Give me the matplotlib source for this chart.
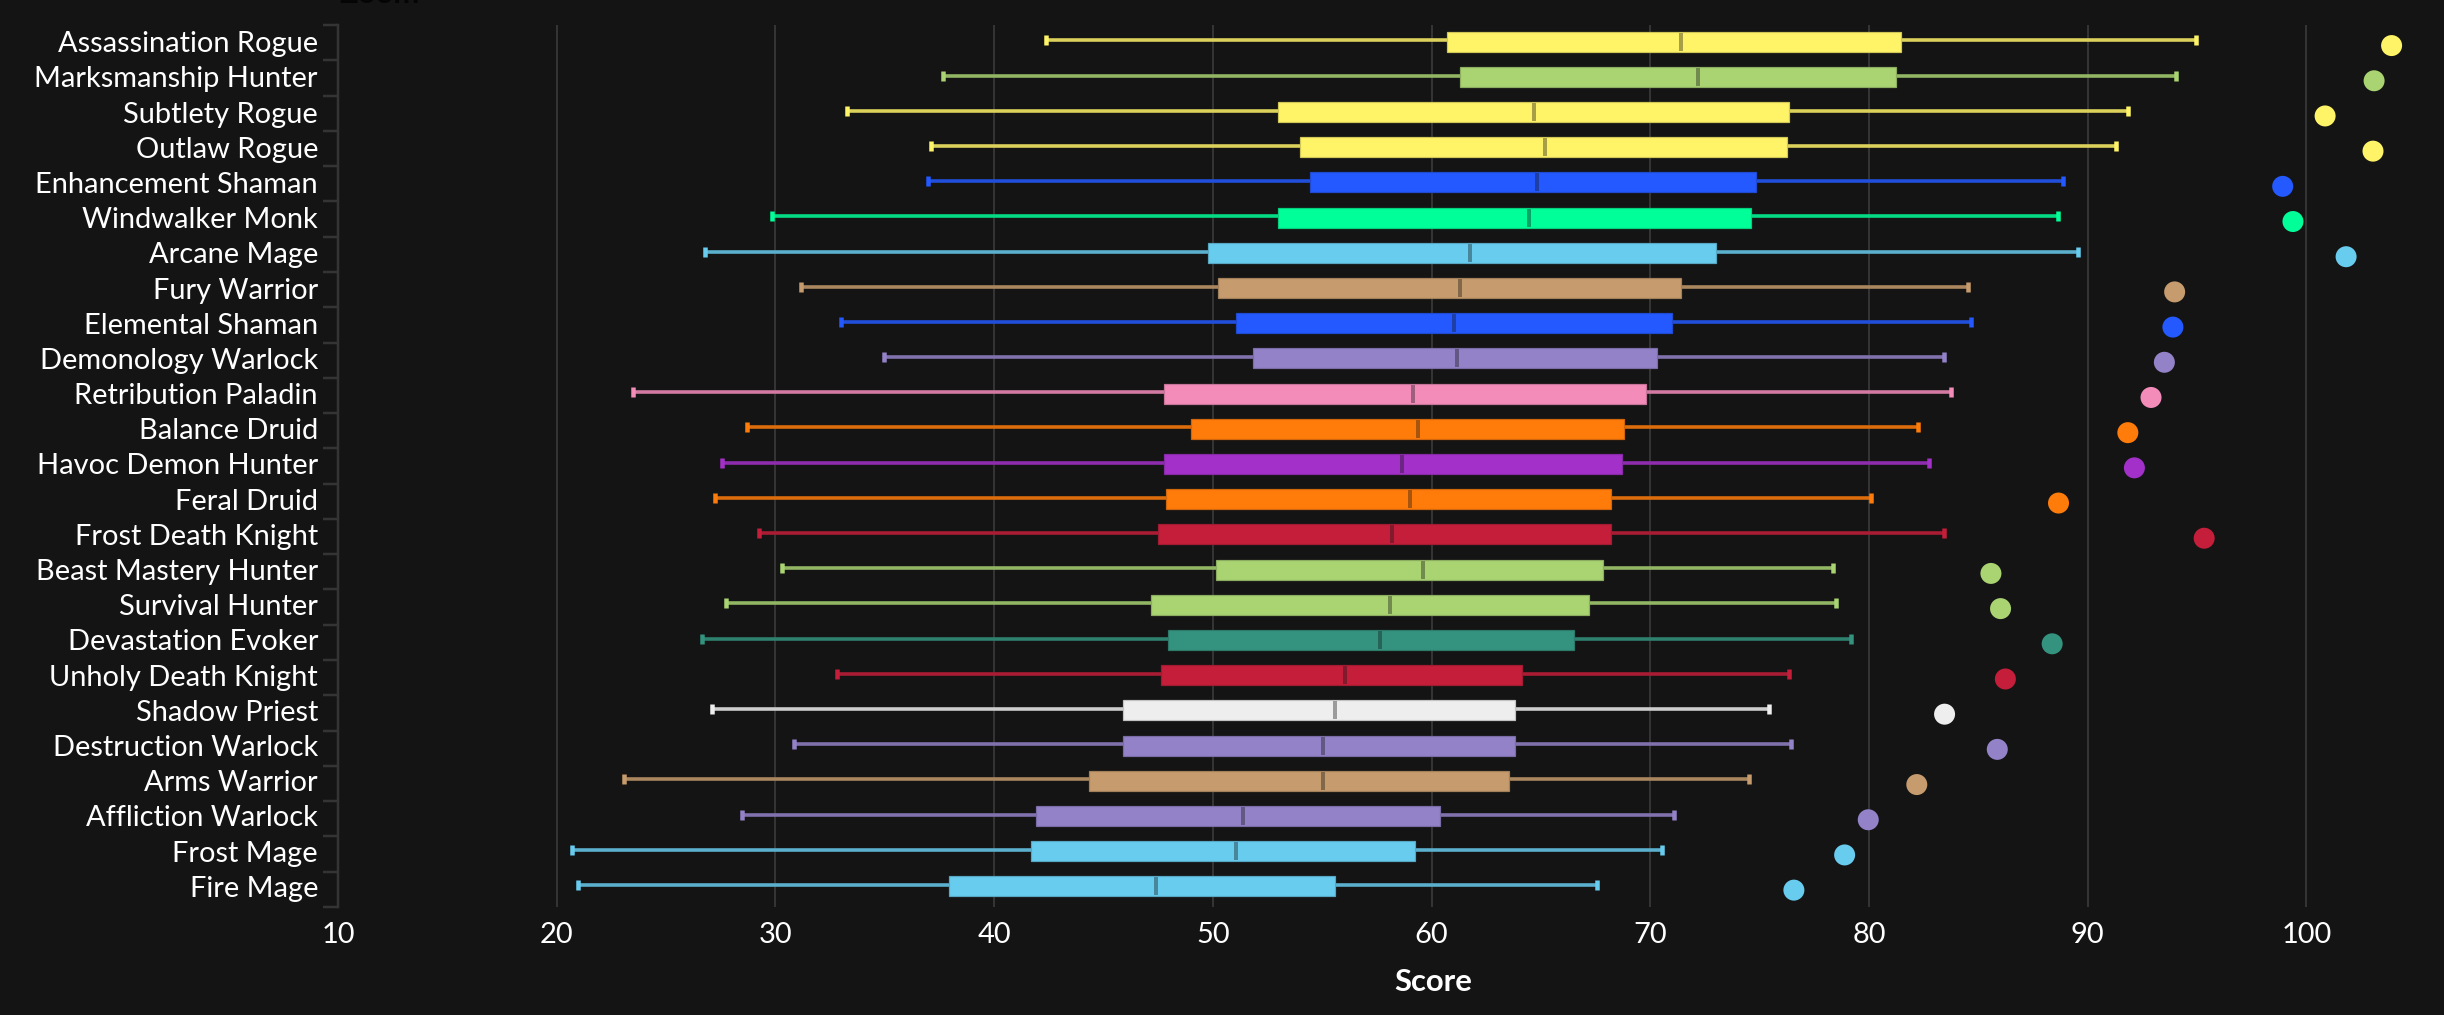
import numpy as np
import matplotlib
matplotlib.use("Agg")
import matplotlib.pyplot as plt
from matplotlib.transforms import ScaledTranslation

specs = ["Assassination Rogue", "Marksmanship Hunter", "Subtlety Rogue", "Outlaw Rogue",
         "Enhancement Shaman", "Windwalker Monk", "Arcane Mage", "Fury Warrior",
         "Elemental Shaman", "Demonology Warlock", "Retribution Paladin", "Balance Druid",
         "Havoc Demon Hunter", "Feral Druid", "Frost Death Knight", "Beast Mastery Hunter",
         "Survival Hunter", "Devastation Evoker", "Unholy Death Knight", "Shadow Priest",
         "Destruction Warlock", "Arms Warrior", "Affliction Warlock", "Frost Mage", "Fire Mage"]
low = [42.37, 37.68, 33.26, 37.13, 37.0, 29.85, 26.76, 31.18, 33.02, 34.96, 23.47, 28.7, 27.55,
       27.22, 29.27, 30.3, 27.76, 26.64, 32.81, 27.09, 30.84, 23.1, 28.46, 20.71, 20.96]
q1 = [60.72, 61.3, 53.0, 54.0, 54.46, 53.0, 49.77, 50.26, 51.04, 51.83, 47.75, 49.0, 47.75,
      47.84, 47.5, 50.14, 47.17, 47.96, 47.63, 45.9, 45.9, 44.33, 41.91, 41.7, 37.92]
median = [71.43, 72.2, 64.7, 65.2, 64.83, 64.47, 61.75, 61.3, 61.05, 61.17, 59.15, 59.36, 58.66,
          59.03, 58.2, 59.6, 58.1, 57.64, 56.06, 55.58, 55.04, 55.04, 51.38, 51.05, 47.39]
q3 = [81.47, 81.25, 76.34, 76.24, 74.86, 74.62, 73.02, 71.43, 70.98, 70.29, 69.83, 68.82, 68.7,
      68.23, 68.23, 67.84, 67.22, 66.53, 64.14, 63.8, 63.8, 63.56, 60.39, 59.24, 55.58]
high = [94.94, 94.03, 91.87, 91.28, 88.89, 88.65, 89.56, 84.55, 84.67, 83.42, 83.76, 82.26, 82.73,
        80.1, 83.42, 78.38, 78.5, 79.19, 76.34, 75.43, 76.43, 74.52, 71.08, 70.52, 67.55]
top_score = [103.9, 103.1, 100.86, 103.05, 98.92, 99.39, 101.82, 93.98, 93.9, 93.51, 92.9, 91.84,
             92.14, 88.67, 95.33, 85.58, 86.02, 88.38, 86.24, 83.46, 85.87, 82.19, 79.97, 78.89, 76.57]
colors = ["#FFF468", "#AAD372", "#FFF468", "#FFF468", "#2359FF", "#00FF98", "#68CCEF", "#C69B6D",
          "#2359FF", "#9482C9", "#F48CBA", "#FF7C0A", "#A330C9", "#FF7C0A", "#C41E3A", "#AAD372",
          "#AAD372", "#33937F", "#C41E3A", "#EEEEEE", "#9482C9", "#C69B6D", "#9482C9", "#68CCEF", "#68CCEF"]
x_ticks = [10, 20, 30, 40, 50, 60, 70, 80, 90, 100]

BG = "#141414"
GRID = "#343434"
W, H = 2444, 1015
DPI = 100
px = 72 / DPI

plt.rcParams['font.family'] = ['Lato', 'DejaVu Sans']


def shade(c, f):
    rgb = np.array(matplotlib.colors.to_rgb(c))
    bg = np.array(matplotlib.colors.to_rgb(BG))
    return tuple(rgb * f + bg * (1 - f))


fig = plt.figure(figsize=(W / DPI, H / DPI), dpi=DPI, facecolor=BG)
L, R, T, B = 338, 2434, 25, 907
ax = fig.add_axes([L / W, 1 - B / H, (R - L) / W, (B - T) / H], facecolor=BG)

n = len(specs)
rows = np.arange(n)
x0, x1 = 10.0, 10 + (R - L) / 21.87
ax.set_xlim(x0, x1)
row_px, first_px = 35.19, 41.7
ytop, ybot = (T - first_px) / row_px, (B - first_px) / row_px
ax.set_ylim(ybot, ytop)

stats = [dict(med=m, q1=a, q3=b, whislo=l, whishi=h, fliers=[])
         for m, a, b, l, h in zip(median, q1, q3, low, high)]
art = ax.bxp(stats, positions=rows, widths=20 / row_px, orientation='horizontal',
             patch_artist=True, showfliers=False, manage_ticks=False,
             capwidths=10 / row_px, zorder=3)
shift = ax.transData + ScaledTranslation(0, 1.3 / DPI, fig.dpi_scale_trans)
for i, c in enumerate(colors):
    art['boxes'][i].set(facecolor=c, edgecolor=shade(c, 0.8), linewidth=1.2 * px)
    art['medians'][i].set(color=shade(c, 0.62), linewidth=4 * px, solid_capstyle='butt')
    art['medians'][i].set_ydata([i - 9 / row_px, i + 9 / row_px])
    for w in art['whiskers'][2 * i:2 * i + 2]:
        w.set(color=shade(c, 0.85), linewidth=3.6 * px, transform=shift, solid_capstyle='butt', zorder=2.5)
    for cp in art['caps'][2 * i:2 * i + 2]:
        cp.set(color=c, linewidth=4.5 * px, transform=shift, solid_capstyle='butt', zorder=2.6)

ax.scatter(top_score, rows + 0.11, s=(21 * px) ** 2, c=colors, linewidths=0, zorder=4)

ax.set_xticks(x_ticks)
ax.grid(axis='x', color=GRID, linewidth=2 * px, zorder=0)
ax.set_axisbelow(True)
ax.set_yticks(rows)
ax.set_yticklabels(specs)
ax.set_yticks(np.linspace(ytop, ybot, n + 1), minor=True)
ax.tick_params(axis='y', which='major', length=0, pad=20 * px, labelsize=29 * px, labelcolor='white')
ax.tick_params(axis='y', which='minor', length=11, width=2.5 * px, color=GRID)
ax.tick_params(axis='x', length=0, pad=15 * px, labelsize=29 * px, labelcolor='white')
for s in ('top', 'right', 'bottom'):
    ax.spines[s].set_visible(False)
ax.spines['left'].set_color(GRID)
ax.spines['left'].set_linewidth(2.5 * px)

fig.text(1433 / W, 1 - 982 / H, "Score", color='white', fontsize=31 * px, fontweight='bold',
         ha='center', va='center')
fig.text(380 / W, 1 - 3 / H, "Zoom", color='#050505', fontsize=31 * px, fontweight='bold',
         ha='center', va='baseline')

fig.savefig("out.png", dpi=DPI, facecolor=BG)
